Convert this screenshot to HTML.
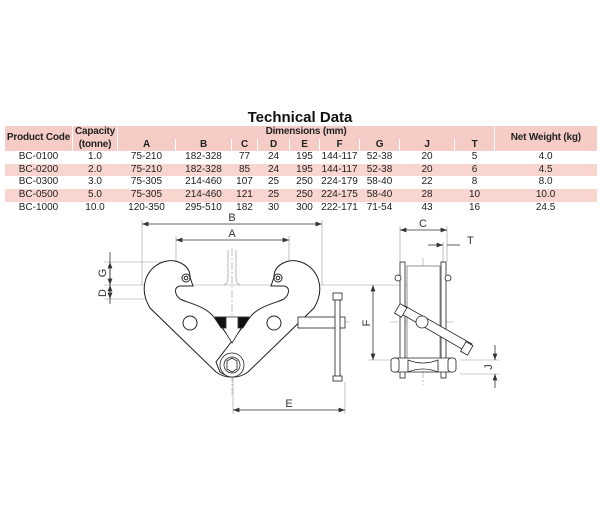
<!DOCTYPE html>
<html><head><meta charset="utf-8"><style>
body{margin:0;background:#fff;width:600px;height:530px;overflow:hidden;font-family:"Liberation Sans",sans-serif;}
table{position:absolute;left:4px;top:126px;width:592px;border-collapse:collapse;font-size:10px;color:#222;table-layout:fixed;}
td{text-align:center;padding:0;height:12.6px;line-height:12.6px;white-space:nowrap;overflow:hidden;}
.h td{font-weight:bold;background:#f6cdc6;border-left:1px solid #fff;letter-spacing:-0.2px;}
.p td{background:#f8d5cf;}
h1{position:absolute;left:0;width:600px;top:109px;margin:0;text-align:center;font-size:15px;font-weight:bold;color:#111;}
svg{position:absolute;left:0;top:0;}
</style></head><body>
<h1>Technical Data</h1>
<table>
<colgroup><col style="width:68px"><col style="width:45px"><col style="width:58px"><col style="width:56px"><col style="width:26px"><col style="width:32px"><col style="width:30px"><col style="width:40px"><col style="width:40px"><col style="width:55px"><col style="width:40px"><col style="width:102px"></colgroup>
<tr class="h"><td rowspan="2">Product Code</td><td>Capacity</td><td colspan="9">Dimensions (mm)</td><td rowspan="2">Net Weight (kg)</td></tr>
<tr class="h"><td>(tonne)</td><td>A</td><td>B</td><td>C</td><td>D</td><td>E</td><td>F</td><td>G</td><td>J</td><td>T</td></tr>
<tr><td>BC-0100</td><td>1.0</td><td>75-210</td><td>182-328</td><td>77</td><td>24</td><td>195</td><td>144-117</td><td>52-38</td><td>20</td><td>5</td><td>4.0</td></tr>
<tr class="p"><td>BC-0200</td><td>2.0</td><td>75-210</td><td>182-328</td><td>85</td><td>24</td><td>195</td><td>144-117</td><td>52-38</td><td>20</td><td>6</td><td>4.5</td></tr>
<tr><td>BC-0300</td><td>3.0</td><td>75-305</td><td>214-460</td><td>107</td><td>25</td><td>250</td><td>224-179</td><td>58-40</td><td>22</td><td>8</td><td>8.0</td></tr>
<tr class="p"><td>BC-0500</td><td>5.0</td><td>75-305</td><td>214-460</td><td>121</td><td>25</td><td>250</td><td>224-175</td><td>58-40</td><td>28</td><td>10</td><td>10.0</td></tr>
<tr><td>BC-1000</td><td>10.0</td><td>120-350</td><td>295-510</td><td>182</td><td>30</td><td>300</td><td>222-171</td><td>71-54</td><td>43</td><td>16</td><td>24.5</td></tr>
</table>
<svg width="600" height="530" viewBox="0 0 600 530" font-family="Liberation Sans, sans-serif" font-size="11" fill="none" stroke="#333" stroke-width="0.8">
<defs><marker id="a" markerWidth="8" markerHeight="6" refX="8" refY="3" orient="auto-start-reverse"><path d="M0,0 L8,3 L0,6z" fill="#333" stroke="none"/></marker></defs>
<g stroke="#999" stroke-width="0.6">
<line x1="142" y1="220" x2="142" y2="285"/><line x1="322" y1="220" x2="322" y2="285"/>
<line x1="176" y1="236" x2="176" y2="280"/><line x1="289" y1="236" x2="289" y2="280"/>
<line x1="104" y1="262" x2="165" y2="262"/><line x1="104" y1="285" x2="420" y2="285"/><line x1="104" y1="299" x2="180" y2="299"/>
<line x1="233" y1="375" x2="233" y2="414"/><line x1="345" y1="382" x2="345" y2="414"/>
<line x1="400" y1="226" x2="400" y2="262"/><line x1="447" y1="226" x2="447" y2="262"/><line x1="443" y1="242" x2="443" y2="262"/>
<line x1="368" y1="360" x2="420" y2="360"/><line x1="460" y1="360" x2="500" y2="360"/><line x1="460" y1="374" x2="500" y2="374"/>
</g>
<line x1="142" y1="224" x2="322" y2="224" marker-start="url(#a)" marker-end="url(#a)"/>
<line x1="176" y1="240" x2="289" y2="240" marker-start="url(#a)" marker-end="url(#a)"/>
<line x1="233" y1="410" x2="345" y2="410" marker-start="url(#a)" marker-end="url(#a)"/>
<line x1="110" y1="262" x2="110" y2="285" marker-start="url(#a)" marker-end="url(#a)"/>
<line x1="110" y1="285" x2="110" y2="299" marker-start="url(#a)" marker-end="url(#a)"/>
<line x1="110" y1="252" x2="110" y2="304"/>
<line x1="373" y1="285" x2="373" y2="360" marker-start="url(#a)" marker-end="url(#a)"/>
<line x1="400" y1="230" x2="447" y2="230" marker-start="url(#a)" marker-end="url(#a)"/>
<line x1="428" y1="245" x2="443" y2="245" marker-end="url(#a)"/><line x1="447" y1="245" x2="460" y2="245"/>
<line x1="495" y1="345" x2="495" y2="360" marker-end="url(#a)"/><line x1="495" y1="388" x2="495" y2="374" marker-end="url(#a)"/>
<g fill="#333" stroke="none">
<text x="232" y="221" text-anchor="middle">B</text><text x="232" y="237" text-anchor="middle">A</text>
<text x="289" y="407" text-anchor="middle">E</text><text x="423" y="227" text-anchor="middle">C</text><text x="467" y="244">T</text>
<text transform="translate(106,273) rotate(-90)" text-anchor="middle">G</text>
<text transform="translate(106,293) rotate(-90)" text-anchor="middle">D</text>
<text transform="translate(370,323) rotate(-90)" text-anchor="middle">F</text>
<text transform="translate(492,367) rotate(-90)" text-anchor="middle">J</text>
</g>
<g stroke="#999" stroke-width="0.6" stroke-dasharray="8,2,2,2">
<line x1="163" y1="322" x2="350" y2="322"/><line x1="232" y1="248" x2="232" y2="395"/>
<line x1="390" y1="322" x2="455" y2="322"/><line x1="423" y1="258" x2="423" y2="385"/>
</g>
<path d="M228 250 V278 Q228 283 224 285 M236 250 V278 Q236 283 240 285" stroke="#aaa"/>
<g id="arm" stroke="#222" fill="#fff" stroke-width="1">
<path d="M190 277 C190 264 175 258 163 262 C146 268 138 288 150 308 L216 372 Q230 382 244 372 L248 362 L213 316 C205 306 188 303 180 299 C174 294 174 287 180 286 L193 286 Z"/>
<circle cx="186" cy="278" r="4"/><circle cx="186" cy="278" r="1.8"/>
<circle cx="190" cy="323" r="7"/>
</g>
<use href="#arm" transform="translate(464,0) scale(-1,1)"/>
<path d="M216 317 L248 317 L232 343 Z" fill="#fff" stroke="#222"/>
<path d="M214 317 H226 V328 H221 Z M238 317 H250 L243 328 H238 Z" fill="#111"/>
<circle cx="232" cy="365" r="12" fill="#fff" stroke="#222"/><circle cx="232" cy="365" r="8" fill="#fff" stroke="#222"/>
<polygon points="227,361 232,358 237,361 237,369 232,372 227,369" fill="#fff" stroke="#222"/>
<rect x="298" y="317" width="47" height="11" fill="#fff" stroke="#222"/>
<rect x="335" y="300" width="5" height="80" fill="#fff" stroke="#222"/>
<rect x="333" y="293" width="9" height="7" fill="#fff" stroke="#222"/>
<rect x="333" y="376" width="9" height="5" fill="#fff" stroke="#222"/>
<g stroke="#222" fill="#fff">
<rect x="407" y="266" width="33" height="100" stroke="#777"/>
<rect x="400" y="262" width="5" height="116"/><rect x="441" y="262" width="5" height="116"/>
<circle cx="398" cy="278" r="3"/><circle cx="448" cy="278" r="3"/>
<path d="M395 358 H452 V372 H395 Z"/>
<path d="M408 360 Q423 366 438 360 V372 Q423 366 408 372 Z"/>
<rect x="391" y="358" width="8" height="14" rx="3"/><rect x="448" y="358" width="8" height="14" rx="3"/>
<path d="M400 313 L405 306 L472 344 L467 352 Z"/>
<rect x="397" y="305" width="8" height="11" transform="rotate(30 401 310)"/>
<rect x="463" y="343" width="8" height="11" transform="rotate(30 467 348)"/>
<circle cx="422" cy="322" r="6"/>
</g>
</svg>
</body></html>
